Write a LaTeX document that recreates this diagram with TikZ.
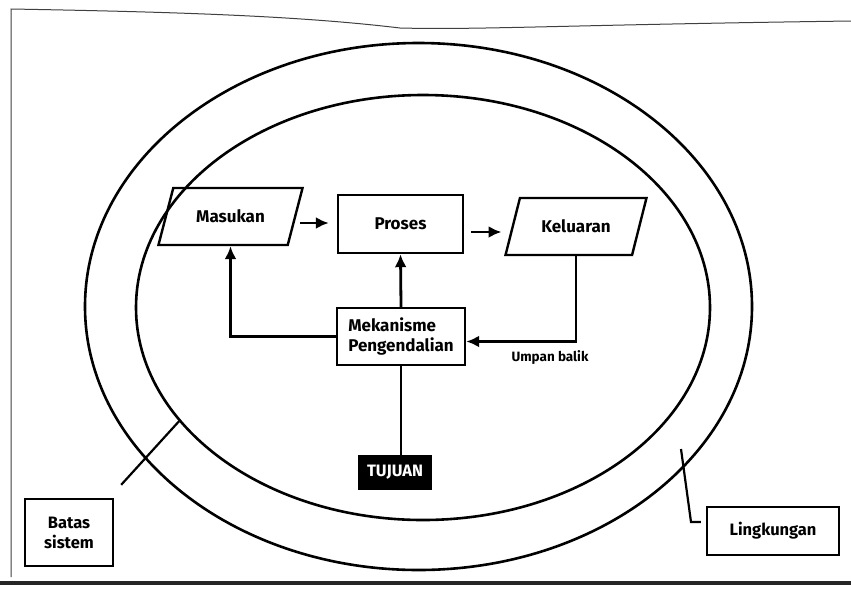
\documentclass[tikz,border=0pt]{standalone}
\usepackage{fontspec}
\setmainfont{Fira Sans}
\usetikzlibrary{shapes.geometric,arrows.meta,calc}

\begin{document}
\begin{tikzpicture}[x=1pt,y=-1pt,
  line/.style={line width=2.8pt,line join=miter},
  arr/.style={line, -{Latex[length=13pt,width=12pt]}},
  ring/.style={draw,ellipse,line width=2.6pt,inner sep=0pt},
  boxnode/.style={draw,line width=2.4pt,inner sep=2pt,font=\fontsize{17}{20}\selectfont\bfseries},
  slanted/.style={draw,line width=2.4pt,trapezium,trapezium left angle=56,trapezium right angle=124,
    trapezium stretches=true,inner sep=0pt,font=\fontsize{17}{20}\selectfont\bfseries},
  tagbox/.style={draw,line width=2.4pt,inner sep=2pt,font=\fontsize{16.5}{20}\selectfont\bfseries}]
  \useasboundingbox (0,0) rectangle (851,590);
  \fill[white] (0,0) rectangle (851,590);

  % page edges
  \draw[line width=1pt,black!75] (11,577) -- (11,9)
    .. controls (180,12) and (300,16) .. (400,28)
    .. controls (480,30) and (560,25) .. (851,21);
  \draw[line width=3.5pt,black!85] (0,583) -- (851,583);

  % environment and system boundary
  \node[ring,minimum width=667,minimum height=527] (env) at (418.5,306.5) {};
  \node[ring,minimum width=574,minimum height=425] (sys) at (423,307.5) {};

  % system components
  \node[slanted,minimum width=145,minimum height=57] (mas) at (230.5,216.5) {Masukan};
  \node[boxnode,minimum width=125,minimum height=58] (pro) at (400.5,224) {Proses};
  \node[slanted,minimum width=142,minimum height=57] (kel) at (576,226.5) {Keluaran};
  \node[boxnode,minimum width=128,minimum height=57,align=left] (mek) at (401,336.5)
    {Mekanisme\\Pengendalian};
  \node[fill=black,text=white,minimum width=74,minimum height=35,inner sep=0pt,
    font=\fontsize{16.5}{18}\selectfont\bfseries] (tuj) at (395,472.5) {TUJUAN};
  \node[font=\fontsize{13.5}{15}\selectfont\bfseries,inner sep=0pt] (umb) at (550,358) {Umpan balik};

  % flow
  \draw[arr,shorten <=4pt,shorten >=8pt] (mas.east |- 0,223) -- (pro.west |- 0,223);
  \draw[arr,shorten <=7pt,shorten >=10pt] (pro.east |- 0,232) -- (kel.west |- 0,232);
  \draw[arr] (mek.north) -- (pro.south);
  \draw[arr] (mek.west) -| (mas.center |- mas.south);
  \draw[arr] (kel.center |- kel.south) |- ([yshift=-5pt]mek.east);
  \draw[line] (mek.south) -- (mek.south |- tuj.north);

  % labels
  \node[tagbox,minimum width=88,minimum height=67,align=center] (bat) at (69,532.5)
    {Batas\\sistem};
  \node[tagbox,minimum width=132,minimum height=48] (lin) at (773,531) {Lingkungan};
  \coordinate (batp) at (sys.205.7);
  \coordinate (linp) at (681,449);
  \draw[line width=2.2pt] ([shift={(7,-13)}]bat.north east) -- (batp);
  \draw[line width=2.2pt] (linp) -- (691,522) -- ([shift={(-5,-9)}]lin.west);
\end{tikzpicture}
\end{document}
